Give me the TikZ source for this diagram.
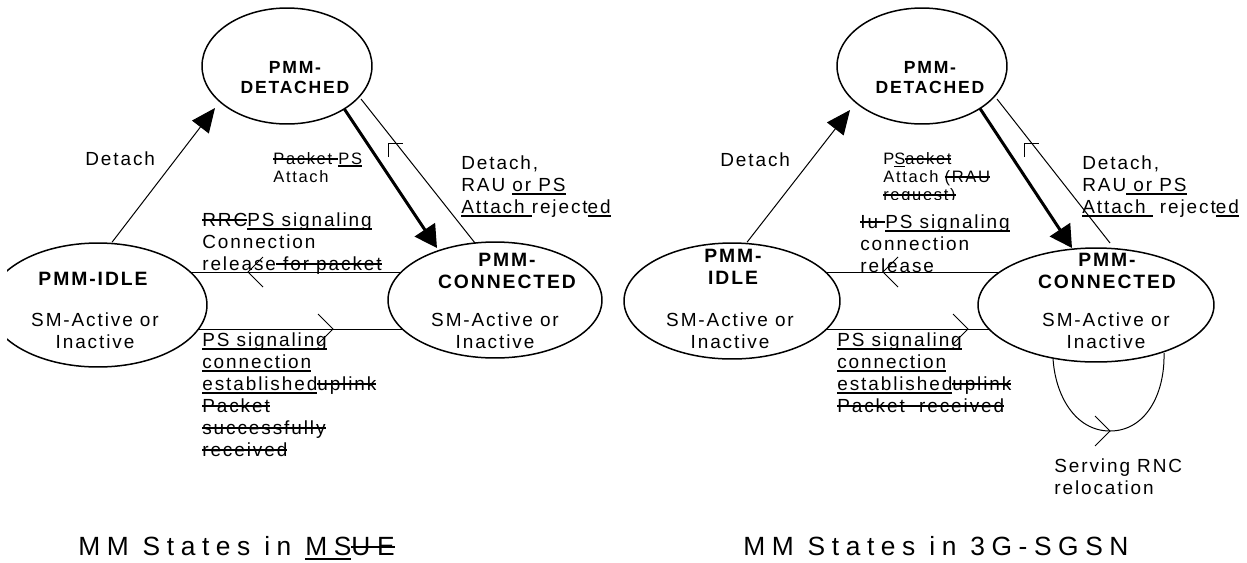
\documentclass[tikz,border=0pt]{standalone}
\usepackage{fontspec}
\setmainfont{Liberation Sans}[LetterSpace=10]
\newfontfamily\capfamily{Liberation Sans}[LetterSpace=25]
\usetikzlibrary{arrows.meta, shapes.geometric, backgrounds}
\newcommand{\lblfont}{\fontsize{10.8pt}{12.5pt}\selectfont}
\newcommand{\smlblfont}{\fontsize{9.4pt}{10.2pt}\selectfont}
\newcommand{\statefont}{\fontsize{11pt}{12.5pt}\selectfont\bfseries}
\newcommand{\detfont}{\fontsize{10pt}{11.4pt}\selectfont\bfseries}
\newcommand{\capfont}{\capfamily\fontsize{15pt}{18pt}\selectfont}
% underlined and struck-out words
\newcommand{\undl}[1]{\leavevmode\setbox0\hbox{#1}\rlap{\rule[-0.2em]{\wd0}{1.1pt}}\box0}
\newcommand{\strk}[1]{\leavevmode\setbox0\hbox{#1}\rlap{\rule[0.27em]{\wd0}{1.1pt}}\box0}

\begin{document}
\begin{tikzpicture}[x=0.02cm, y=-0.02cm,
  pstate/.style={draw, ellipse, line width=0.03cm, fill=white, inner sep=0pt},
  sname/.style={font=\statefont, align=center, inner sep=0pt},
  smtxt/.style={font=\lblfont, align=center, inner sep=0pt},
  lbl/.style={font=\lblfont, align=left, anchor=base west, inner sep=0pt},
  slbl/.style={lbl, font=\smlblfont},
  ln/.style={line width=0.02cm},
  arr/.style={ln, -{Triangle[length=0.48cm, width=0.42cm]}},
  tarr/.style={line width=0.06cm, -{Triangle[length=0.44cm, width=0.48cm]}}
]
  \useasboundingbox (0,0) rectangle (1247,562);
  \clip (7,0) rectangle (1247,562);

  % MS side
  \node[pstate, minimum width=3.4cm, minimum height=2.32cm] (det1) at (287,66) {};
  \node[pstate, minimum width=4.36cm, minimum height=2.48cm] (idle1) at (98,305) {};
  \node[pstate, minimum width=4.28cm, minimum height=2.32cm] (con1) at (495,300) {};
  \node[sname, font=\detfont] (det1-n) at ([shift={(8,12)}]det1.center) {PMM-\\DETACHED};
  \node[sname] (idle1-n) at ([shift={(-5,-26)}]idle1.center) {PMM-IDLE};
  \node[smtxt] (idle1-s) at ([shift={(-3,26)}]idle1.center) {SM-Active or\\Inactive};
  \node[sname] (con1-n) at ([shift={(12,-29)}]con1.center) {PMM-\\CONNECTED};
  \node[smtxt] (con1-s) at ([shift={(0,31)}]con1.center) {SM-Active or\\Inactive};

  \coordinate (rel1) at (248,272);
  \coordinate (est1) at (333,329);
  \begin{scope}[on background layer]
    \draw[arr] ([shift={(14,0)}]idle1.north) -- ([shift={(-72,42)}]det1.center);
    \draw[tarr] ([shift={(56,41)}]det1.center) -- ([shift={(-58,-52)}]con1.center);
    \draw[ln] ([shift={(74,33)}]det1.center) -- coordinate[pos=0.306] (rej1)
      ([shift={(-20,-57)}]con1.center);
    \draw[ln] ([shift={(-7,14)}]rej1) -- ([shift={(-7,0)}]rej1) -- ([shift={(7,0)}]rej1);
    \draw[ln] (con1.center |- rel1) -- (idle1.center |- rel1);
    \draw[ln] ([shift={(15,-15)}]rel1) -- (rel1) -- ([shift={(15,15)}]rel1);
    \draw[ln] (idle1.center |- est1) -- (con1.center |- est1);
    \draw[ln] ([shift={(-15,-15)}]est1) -- (est1) -- ([shift={(-15,15)}]est1);
  \end{scope}

  % labels, placed at the baseline of their last line
  \node[lbl] (det1-l) at (85,165) {Detach};
  \node[slbl] (att1-l) at (273,182) {\strk{Packet }\undl{PS}\\Attach};
  \node[lbl] (rel1-l) at (202,270)
    {\strk{RRC}\undl{PS signaling}\\Connection\\release\strk{ for packet}};
  \node[lbl] (est1-l) at (202,456)
    {\undl{PS signaling}\\\undl{connection}\\\undl{established}\strk{uplink}\\
     \strk{Packet}\\\strk{successfully}\\\strk{received}};
  \node[lbl] (rej1-l) at (461,213)
    {Detach,\\RAU \undl{or PS}\\\undl{Attach }reject\undl{ed}};
  \node[lbl, font=\capfont] (ttl1) at (78,555) {MM States in \undl{MS}\strk{UE}};

  % 3G-SGSN side
  \node[pstate, minimum width=3.4cm, minimum height=2.32cm] (det2) at (922,66) {};
  \node[pstate, minimum width=4.32cm, minimum height=2.32cm] (idle2) at (732,301) {};
  \node[pstate, minimum width=4.72cm, minimum height=2.28cm] (con2) at (1096,305) {};
  \node[sname, font=\detfont] (det2-n) at ([shift={(8,12)}]det2.center) {PMM-\\DETACHED};
  \node[sname] (idle2-n) at ([shift={(1,-34)}]idle2.center) {PMM-\\IDLE};
  \node[smtxt] (idle2-s) at ([shift={(-2,30)}]idle2.center) {SM-Active or\\Inactive};
  \node[sname] (con2-n) at ([shift={(11,-34)}]con2.center) {PMM-\\CONNECTED};
  \node[smtxt] (con2-s) at ([shift={(10,26)}]con2.center) {SM-Active or\\Inactive};

  \coordinate (rel2) at (883,272);
  \coordinate (est2) at (968,329);
  \coordinate (srnc) at (1110,431);
  \begin{scope}[on background layer]
    \draw[arr] ([shift={(15,0)}]idle2.north) -- ([shift={(-72,44)}]det2.center);
    \draw[tarr] ([shift={(57,41)}]det2.center) -- ([shift={(-24,-57)}]con2.center);
    \draw[ln] ([shift={(75,33)}]det2.center) -- coordinate[pos=0.306] (rej2)
      ([shift={(14,-62)}]con2.center);
    \draw[ln] ([shift={(-7,14)}]rej2) -- ([shift={(-7,0)}]rej2) -- ([shift={(7,0)}]rej2);
    \draw[ln] (con2.center |- rel2) -- (idle2.center |- rel2);
    \draw[ln] ([shift={(15,-15)}]rel2) -- (rel2) -- ([shift={(15,15)}]rel2);
    \draw[ln] (idle2.center |- est2) -- (con2.center |- est2);
    \draw[ln] ([shift={(-15,-15)}]est2) -- (est2) -- ([shift={(-15,15)}]est2);
    % relocation loop
    \draw[ln] ([shift={(-43,53)}]con2.center) .. controls (1055,395) and (1075,431) .. (srnc)
      .. controls (1145,431) and (1165,395) .. ([shift={(68,48)}]con2.center);
    \draw[ln] ([shift={(-15,-15)}]srnc) -- (srnc) -- ([shift={(-15,15)}]srnc);
  \end{scope}

  \node[lbl] (det2-l) at (720,166) {Detach};
  \begin{scope}
    \clip (870,140) rectangle (1010,199);
    \node[slbl] (att2-l) at (883,200)
      {P\undl{S}\strk{acket}\\Attach \strk{(RAU}\\\strk{request)}};
  \end{scope}
  \node[lbl] (rel2-l) at (860,272)
    {\strk{Iu }\undl{PS signaling}\\connection\\release};
  \node[lbl] (est2-l) at (837,412)
    {\undl{PS signaling}\\\undl{connection}\\\undl{established}\strk{uplink}\\
     \strk{Packet\ \ received}};
  \node[lbl] (rej2-l) at (1082,213)
    {Detach,\\RAU\undl{ or PS}\\\undl{Attach }\ reject\undl{ed}};
  \node[lbl] (srnc-l) at (1054,494) {Serving RNC\\relocation};
  \node[lbl, font=\capfont] (ttl2) at (743,555) {MM States in 3G-SGSN};
\end{tikzpicture}
\end{document}
